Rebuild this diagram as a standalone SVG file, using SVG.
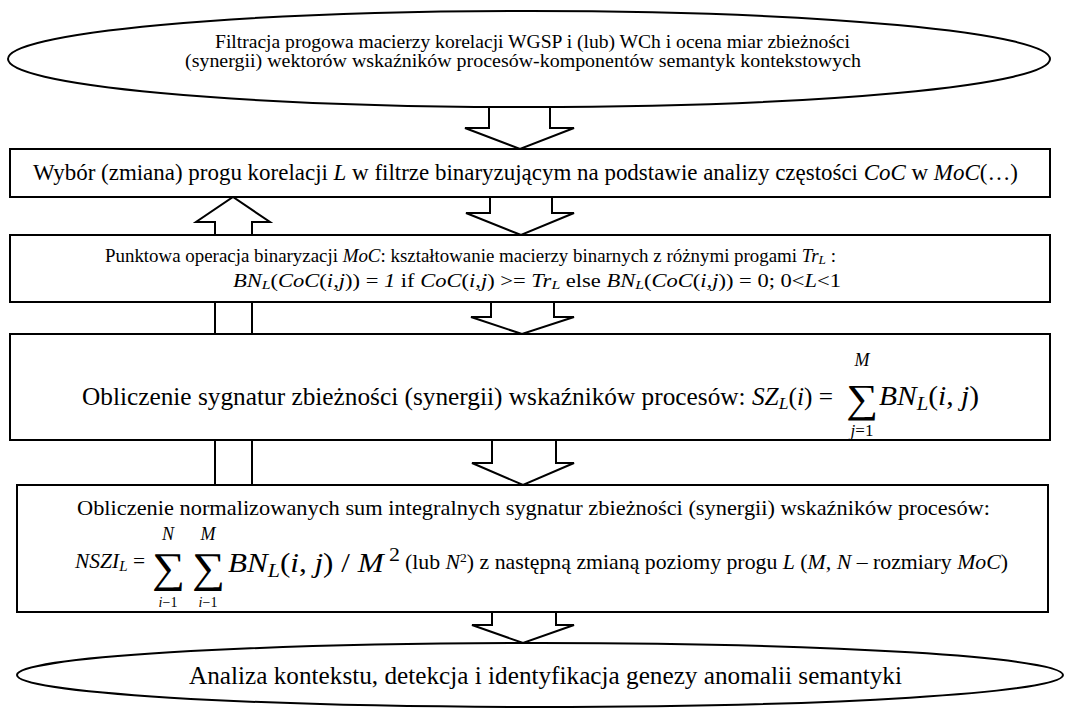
<svg xmlns="http://www.w3.org/2000/svg" width="1068" height="709" viewBox="0 0 1068 709">
<style>
text{font-family:"Liberation Serif","Times New Roman",serif;fill:#000}
.n{fill:#fff;stroke:#000;stroke-width:2}
.c{fill:#fff;stroke:#000;stroke-width:2;stroke-linejoin:miter}
.l{fill:none;stroke:#000;stroke-width:2}
.i{font-style:italic}
.m{text-anchor:middle}
</style>
<rect width="1068" height="709" fill="#fff"/>
<g id="connectors">
<polyline class="l" points="215,235 215,222 196,222 233,197 270,222 252,222 252,235"/>
<line class="l" x1="215" y1="302" x2="215" y2="334"/>
<line class="l" x1="252" y1="302" x2="252" y2="334"/>
<line class="l" x1="215" y1="440" x2="215" y2="485"/>
<line class="l" x1="252" y1="440" x2="252" y2="485"/>
<polyline class="c" points="489,107 489,128 465,128 520,149 574,128 550,128 550,107"/>
<polyline class="c" points="490,197 490,213 466,213 521,235 574,213 552,213 552,197"/>
<polyline class="c" points="491,302 491,317 471,317 522,334 574,317 554,317 554,302"/>
<polyline class="c" points="492,440 492,463 472,463 523,485 574,463 556,463 556,440"/>
<polyline class="c" points="492,612 492,625 472,625 523,643 574,625 556,625 556,612"/>
</g>
<g id="start">
<ellipse class="n" cx="529" cy="59" rx="521" ry="48"/>
<text x="215" y="48" font-size="19" textLength="635" lengthAdjust="spacingAndGlyphs">Filtracja progowa macierzy korelacji WGSP i (lub) WCh i ocena miar zbieżności</text>
<text x="185" y="67" font-size="19" textLength="676" lengthAdjust="spacingAndGlyphs">(synergii) wektorów wskaźników procesów-komponentów semantyk kontekstowych</text>
</g>
<g id="box1">
<rect class="n" x="10" y="149" width="1040" height="48"/>
<text x="33" y="180" font-size="22.5" textLength="985" lengthAdjust="spacingAndGlyphs">Wybór (zmiana) progu korelacji <tspan class="i">L</tspan> w filtrze binaryzującym na podstawie analizy częstości <tspan class="i">CoC</tspan> w <tspan class="i">MoC</tspan>(…)</text>
</g>
<g id="box2">
<rect class="n" x="10" y="235" width="1040" height="67"/>
<text x="105" y="262" font-size="18.5" textLength="731" lengthAdjust="spacingAndGlyphs">Punktowa operacja binaryzacji <tspan class="i">MoC</tspan>: kształtowanie macierzy binarnych z różnymi progami <tspan class="i">Tr<tspan font-size="13" dy="2">L</tspan></tspan><tspan dy="-2"> :</tspan></text>
<text x="233" y="287" font-size="18.5" textLength="608" lengthAdjust="spacingAndGlyphs"><tspan class="i">BN<tspan font-size="13" dy="2">L</tspan></tspan><tspan dy="-2">(</tspan><tspan class="i">CoC</tspan>(<tspan class="i">i,j</tspan>)) = <tspan class="i">1</tspan> if <tspan class="i">CoC</tspan>(<tspan class="i">i,j</tspan>) &gt;= <tspan class="i">Tr<tspan font-size="13" dy="2">L</tspan></tspan><tspan dy="-2">  else </tspan><tspan class="i">BN<tspan font-size="13" dy="2">L</tspan></tspan><tspan dy="-2">(</tspan><tspan class="i">CoC</tspan>(<tspan class="i">i,j</tspan>)) = 0; 0&lt;<tspan class="i">L</tspan>&lt;1</text>
</g>
<g id="box3">
<rect class="n" x="10" y="334" width="1040" height="106"/>
<text x="82" y="405" font-size="24.5" textLength="751" lengthAdjust="spacingAndGlyphs">Obliczenie sygnatur zbieżności (synergii) wskaźników procesów: <tspan class="i">SZ<tspan font-size="17" dy="4">L</tspan></tspan><tspan dy="-4">(</tspan><tspan class="i">i</tspan>) =</text>
<text x="846" y="412" font-size="40" textLength="32" lengthAdjust="spacingAndGlyphs">∑</text>
<text class="m i" x="862" y="366" font-size="18">M</text>
<text class="m" x="862" y="436" font-size="17"><tspan class="i">j</tspan>=1</text>
<text x="879" y="405" font-size="27" textLength="100" lengthAdjust="spacingAndGlyphs"><tspan class="i">BN<tspan font-size="19" dy="5">L</tspan></tspan><tspan dy="-5">(</tspan><tspan class="i">i</tspan>, <tspan class="i">j</tspan>)</text>
</g>
<g id="box4">
<rect class="n" x="17" y="485" width="1031" height="127"/>
<text x="77" y="515" font-size="22" textLength="913" lengthAdjust="spacingAndGlyphs">Obliczenie normalizowanych sum integralnych sygnatur zbieżności (synergii) wskaźników procesów:</text>
<text x="75" y="568" font-size="20" textLength="70" lengthAdjust="spacingAndGlyphs"><tspan class="i">NSZI<tspan font-size="14" dy="3">L</tspan></tspan><tspan dy="-3"> =</tspan></text>
<text x="152" y="582" font-size="42" textLength="33" lengthAdjust="spacingAndGlyphs">∑</text>
<text x="192" y="582" font-size="42" textLength="33" lengthAdjust="spacingAndGlyphs">∑</text>
<text class="m i" x="168" y="540" font-size="18">N</text>
<text class="m i" x="208" y="540" font-size="18">M</text>
<text class="m" x="168" y="607" font-size="14"><tspan class="i">i</tspan>−1</text>
<text class="m" x="208" y="607" font-size="14"><tspan class="i">i</tspan>−1</text>
<text x="228" y="572" font-size="27" textLength="172" lengthAdjust="spacingAndGlyphs"><tspan class="i">BN<tspan font-size="19" dy="5">L</tspan></tspan><tspan dy="-5">(</tspan><tspan class="i">i</tspan>, <tspan class="i">j</tspan>) / <tspan class="i">M</tspan><tspan font-size="19" dy="-11"> 2</tspan></text>
<text x="405" y="569" font-size="21" textLength="603" lengthAdjust="spacingAndGlyphs">(lub <tspan class="i">N</tspan><tspan font-size="13" dy="-7">2</tspan><tspan dy="7">) z następną zmianą poziomy progu </tspan><tspan class="i">L</tspan> (<tspan class="i">M, N</tspan> – rozmiary <tspan class="i">MoC</tspan>)</text>
</g>
<g id="end">
<ellipse class="n" cx="540" cy="675" rx="523" ry="32"/>
<text x="189" y="684" font-size="24.5" textLength="713" lengthAdjust="spacingAndGlyphs">Analiza kontekstu, detekcja i identyfikacja genezy anomalii semantyki</text>
</g>
</svg>
